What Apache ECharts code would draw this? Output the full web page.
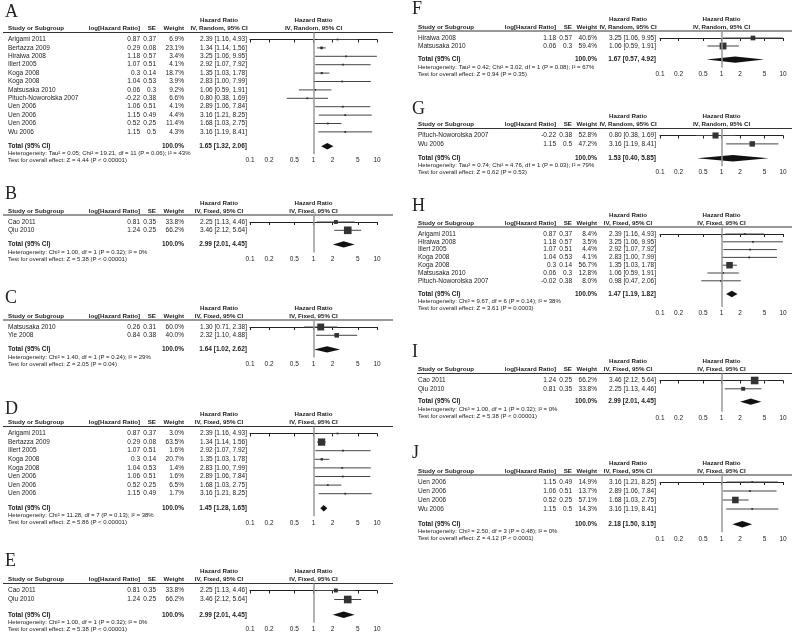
<!DOCTYPE html>
<html>
<head>
<meta charset="utf-8">
<script src="https://cdn.jsdelivr.net/npm/echarts@6/dist/echarts.min.js"></script>
<style>
  html, body { margin: 0; padding: 0; background: #fff; }
  #chart { width: 793px; height: 642px; }
</style>
</head>
<body>
<div id="chart"></div>
<script>
// rows: [study, log[HR], SE, weight %, HR, lower, upper]
const rowsA = [
  ['Arigami 2011', 0.87, 0.37, 6.9, 2.39, 1.16, 4.93],
  ['Bertazza 2009', 0.29, 0.08, 23.1, 1.34, 1.14, 1.56],
  ['Hiraiwa 2008', 1.18, 0.57, 3.4, 3.25, 1.06, 9.95],
  ['Illert 2005', 1.07, 0.51, 4.1, 2.92, 1.07, 7.92],
  ['Koga 2008', 0.3, 0.14, 18.7, 1.35, 1.03, 1.78],
  ['Koga 2008', 1.04, 0.53, 3.9, 2.83, 1.00, 7.99],
  ['Matsusaka 2010', 0.06, 0.3, 9.2, 1.06, 0.59, 1.91],
  ['Pituch-Noworolska 2007', -0.22, 0.38, 6.6, 0.80, 0.38, 1.69],
  ['Uen 2006', 1.06, 0.51, 4.1, 2.89, 1.06, 7.84],
  ['Uen 2006', 1.15, 0.49, 4.4, 3.16, 1.21, 8.25],
  ['Uen 2006', 0.52, 0.25, 11.4, 1.68, 1.03, 2.75],
  ['Wu 2006', 1.15, 0.5, 4.3, 3.16, 1.19, 8.41]
]
const totalA = [1.65, 1.32, 2.06]
const hetA = 'Heterogeneity: Tau² = 0.05; Chi² = 19.21, df = 11 (P = 0.06); I² = 43%'
const testA = 'Test for overall effect: Z = 4.44 (P < 0.00001)'

const rowsB = [
  ['Cao 2011', 0.81, 0.35, 33.8, 2.25, 1.13, 4.46],
  ['Qiu 2010', 1.24, 0.25, 66.2, 3.46, 2.12, 5.64]
]
const totalB = [2.99, 2.01, 4.45]
const hetB = 'Heterogeneity: Chi² = 1.00, df = 1 (P = 0.32); I² = 0%'
const testB = 'Test for overall effect: Z = 5.38 (P < 0.00001)'

const rowsC = [
  ['Matsusaka 2010', 0.26, 0.31, 60.0, 1.30, 0.71, 2.38],
  ['Yie 2008', 0.84, 0.38, 40.0, 2.32, 1.10, 4.88]
]
const totalC = [1.64, 1.02, 2.62]
const hetC = 'Heterogeneity: Chi² = 1.40, df = 1 (P = 0.24); I² = 29%'
const testC = 'Test for overall effect: Z = 2.05 (P = 0.04)'

const rowsD = [
  ['Arigami 2011', 0.87, 0.37, 3.0, 2.39, 1.16, 4.93],
  ['Bertazza 2009', 0.29, 0.08, 63.5, 1.34, 1.14, 1.56],
  ['Illert 2005', 1.07, 0.51, 1.6, 2.92, 1.07, 7.92],
  ['Koga 2008', 0.3, 0.14, 20.7, 1.35, 1.03, 1.78],
  ['Koga 2008', 1.04, 0.53, 1.4, 2.83, 1.00, 7.99],
  ['Uen 2006', 1.06, 0.51, 1.6, 2.89, 1.06, 7.84],
  ['Uen 2006', 0.52, 0.25, 6.5, 1.68, 1.03, 2.75],
  ['Uen 2006', 1.15, 0.49, 1.7, 3.16, 1.21, 8.25]
]
const totalD = [1.45, 1.28, 1.65]
const hetD = 'Heterogeneity: Chi² = 11.28, df = 7 (P = 0.13); I² = 38%'
const testD = 'Test for overall effect: Z = 5.86 (P < 0.00001)'

const rowsE = [
  ['Cao 2011', 0.81, 0.35, 33.8, 2.25, 1.13, 4.46],
  ['Qiu 2010', 1.24, 0.25, 66.2, 3.46, 2.12, 5.64]
]
const totalE = [2.99, 2.01, 4.45]
const hetE = 'Heterogeneity: Chi² = 1.00, df = 1 (P = 0.32); I² = 0%'
const testE = 'Test for overall effect: Z = 5.38 (P < 0.00001)'

const rowsF = [
  ['Hiraiwa 2008', 1.18, 0.57, 40.6, 3.25, 1.06, 9.95],
  ['Matsusaka 2010', 0.06, 0.3, 59.4, 1.06, 0.59, 1.91]
]
const totalF = [1.67, 0.57, 4.92]
const hetF = 'Heterogeneity: Tau² = 0.42; Chi² = 3.02, df = 1 (P = 0.08); I² = 67%'
const testF = 'Test for overall effect: Z = 0.94 (P = 0.35)'

const rowsG = [
  ['Pituch-Noworolska 2007', -0.22, 0.38, 52.8, 0.80, 0.38, 1.69],
  ['Wu 2006', 1.15, 0.5, 47.2, 3.16, 1.19, 8.41]
]
const totalG = [1.53, 0.40, 5.85]
const hetG = 'Heterogeneity: Tau² = 0.74; Chi² = 4.76, df = 1 (P = 0.03); I² = 79%'
const testG = 'Test for overall effect: Z = 0.62 (P = 0.53)'

const rowsH = [
  ['Arigami 2011', 0.87, 0.37, 8.4, 2.39, 1.16, 4.93],
  ['Hiraiwa 2008', 1.18, 0.57, 3.5, 3.25, 1.06, 9.95],
  ['Illert 2005', 1.07, 0.51, 4.4, 2.92, 1.07, 7.92],
  ['Koga 2008', 1.04, 0.53, 4.1, 2.83, 1.00, 7.99],
  ['Koga 2008', 0.3, 0.14, 56.7, 1.35, 1.03, 1.78],
  ['Matsusaka 2010', 0.06, 0.3, 12.8, 1.06, 0.59, 1.91],
  ['Pituch-Noworolska 2007', -0.02, 0.38, 8.0, 0.98, 0.47, 2.06]
]
const totalH = [1.47, 1.19, 1.82]
const hetH = 'Heterogeneity: Chi² = 9.67, df = 6 (P = 0.14); I² = 38%'
const testH = 'Test for overall effect: Z = 3.61 (P = 0.0003)'

const rowsI = [
  ['Cao 2011', 1.24, 0.25, 66.2, 3.46, 2.12, 5.64],
  ['Qiu 2010', 0.81, 0.35, 33.8, 2.25, 1.13, 4.46]
]
const totalI = [2.99, 2.01, 4.45]
const hetI = 'Heterogeneity: Chi² = 1.00, df = 1 (P = 0.32); I² = 0%'
const testI = 'Test for overall effect: Z = 5.38 (P < 0.00001)'

const rowsJ = [
  ['Uen 2006', 1.15, 0.49, 14.9, 3.16, 1.21, 8.25],
  ['Uen 2006', 1.06, 0.51, 13.7, 2.89, 1.06, 7.84],
  ['Uen 2006', 0.52, 0.25, 57.1, 1.68, 1.03, 2.75],
  ['Wu 2006', 1.15, 0.5, 14.3, 3.16, 1.19, 8.41]
]
const totalJ = [2.18, 1.50, 3.15]
const hetJ = 'Heterogeneity: Chi² = 2.50, df = 3 (P = 0.48); I² = 0%'
const testJ = 'Test for overall effect: Z = 4.12 (P < 0.0001)'

const tickValues = [0.1, 0.2, 0.5, 1, 2, 5, 10]
const methodRandom = 'IV, Random, 95% CI'
const methodFixed = 'IV, Fixed, 95% CI'

const panels = [
  { key: 'A', rows: rowsA, total: totalA, het: hetA, test: testA, method: methodRandom },
  { key: 'B', rows: rowsB, total: totalB, het: hetB, test: testB, method: methodFixed },
  { key: 'C', rows: rowsC, total: totalC, het: hetC, test: testC, method: methodFixed },
  { key: 'D', rows: rowsD, total: totalD, het: hetD, test: testD, method: methodFixed },
  { key: 'E', rows: rowsE, total: totalE, het: hetE, test: testE, method: methodFixed },
  { key: 'F', rows: rowsF, total: totalF, het: hetF, test: testF, method: methodRandom },
  { key: 'G', rows: rowsG, total: totalG, het: hetG, test: testG, method: methodRandom },
  { key: 'H', rows: rowsH, total: totalH, het: hetH, test: testH, method: methodFixed },
  { key: 'I', rows: rowsI, total: totalI, het: hetI, test: testI, method: methodFixed },
  { key: 'J', rows: rowsJ, total: totalJ, het: hetJ, test: testJ, method: methodFixed }
]

// page layout (pixels)
const cols = {
  L: { letter: 5, name: 8, logHr: 140, se: 156, weight: 184, hr: 247, hrHead: 219, plotL: 250, plotR: 377, ruleL: 3, ruleR: 393 },
  R: { letter: 412, name: 418, logHr: 556, se: 572, weight: 597, hr: 656, hrHead: 628, plotL: 660, plotR: 783, ruleL: 417, ruleR: 792 }
}
// letterY = vertical centre of the panel letter
const layout = {
  A: { side: 'L', letterY: 12.5, lineY: 32.5, rowH: 8.4, gap: 1.7, axisOff: 8 },
  B: { side: 'L', letterY: 194, lineY: 215, rowH: 8.3, gap: 1.7, axisOff: 8 },
  C: { side: 'L', letterY: 298.5, lineY: 320, rowH: 8.3, gap: 1.7, axisOff: 8 },
  D: { side: 'L', letterY: 409, lineY: 426.5, rowH: 8.6, gap: 1.7, axisOff: 8 },
  E: { side: 'L', letterY: 561, lineY: 583.5, rowH: 9, gap: 1.7, axisOff: 8 },
  F: { side: 'R', letterY: 9, lineY: 31, rowH: 8, gap: 1.7, axisOff: 8 },
  G: { side: 'R', letterY: 109, lineY: 128.5, rowH: 8.4, gap: 1.7, axisOff: 8 },
  H: { side: 'R', letterY: 206, lineY: 227, rowH: 7.8, gap: 1.7, axisOff: 13 },
  I: { side: 'R', letterY: 352.5, lineY: 373.5, rowH: 8.3, gap: 1.55, axisOff: 10 },
  J: { side: 'R', letterY: 453.5, lineY: 475, rowH: 9, gap: 1.7, axisOff: 8 }
}

const FONT = 'Liberation Sans, Arial, sans-serif'
const INK = '#222'

const fmtHr = (hr, lo, hi) => `${hr.toFixed(2)} [${lo.toFixed(2)}, ${hi.toFixed(2)}]`

function txt(text, x, y, align, kind) {
  const font = kind === 'head' ? 'bold 6.2px ' : kind === 'bold' ? 'bold 6.5px ' : kind === 'foot' ? '6px ' : '6.5px '
  return {
    type: 'text',
    silent: true,
    style: {
      text: text, x: x, y: y,
      textAlign: align || 'left', align: align || 'left',
      textVerticalAlign: 'middle', verticalAlign: 'middle',
      font: font + FONT,
      fill: INK
    }
  }
}

function renderStudy(params, api) {
  const y = api.value(3)
  const c = api.coord([api.value(0), y])
  const p1 = api.coord([api.value(1), y])
  const p2 = api.coord([api.value(2), y])
  const s = Math.max(1.8, api.value(4) * 0.115)
  return {
    type: 'group',
    children: [
      { type: 'line', shape: { x1: p1[0], y1: p1[1], x2: p2[0], y2: p2[1] }, style: { stroke: '#444', lineWidth: 1 } },
      { type: 'rect', shape: { x: c[0] - s / 2, y: c[1] - s / 2, width: s, height: s }, style: { fill: '#333' } }
    ]
  }
}

function renderDiamond(params, api) {
  const y = api.value(3)
  const c = api.coord([api.value(0), y])
  const p1 = api.coord([api.value(1), y])
  const p2 = api.coord([api.value(2), y])
  const h = 3.2
  return {
    type: 'polygon',
    shape: { points: [[p1[0], c[1]], [c[0], c[1] - h], [p2[0], c[1]], [c[0], c[1] + h]] },
    style: { fill: '#111' }
  }
}

const grids = [], xAxes = [], yAxes = [], series = [], graphics = []

panels.forEach((p, k) => {
  const L = layout[p.key]
  const c = cols[L.side]
  const n = p.rows.length
  const row1Y = L.lineY + 7
  const rowY = i => row1Y + i * L.rowH
  const totalIdx = n - 1 + L.gap
  const totalY = rowY(totalIdx)
  const axisY = totalY + L.axisOff
  const hetY = totalY + 7.5
  const testY = hetY + 7
  const plotMid = (c.plotL + c.plotR) / 2

  // panel letter
  graphics.push({
    type: 'text', silent: true,
    style: { text: p.key, x: c.letter, y: L.letterY, textVerticalAlign: 'middle', verticalAlign: 'middle',
      font: '18px Liberation Serif, Times New Roman, serif', fill: '#222' }
  })
  // headers
  graphics.push(txt('Hazard Ratio', c.hrHead, L.lineY - 12, 'center', 'head'))
  graphics.push(txt('Hazard Ratio', plotMid, L.lineY - 12, 'center', 'head'))
  graphics.push(txt('Study or Subgroup', c.name, L.lineY - 4, 'left', 'head'))
  graphics.push(txt('log[Hazard Ratio]', c.logHr, L.lineY - 4, 'right', 'head'))
  graphics.push(txt('SE', c.se, L.lineY - 4, 'right', 'head'))
  graphics.push(txt('Weight', c.weight, L.lineY - 4, 'right', 'head'))
  graphics.push(txt(p.method, c.hrHead, L.lineY - 4, 'center', 'head'))
  graphics.push(txt(p.method, plotMid, L.lineY - 4, 'center', 'head'))
  graphics.push({
    type: 'line', silent: true,
    shape: { x1: c.ruleL, y1: L.lineY, x2: c.ruleR, y2: L.lineY },
    style: { stroke: '#333', lineWidth: 1 }
  })
  // study rows
  p.rows.forEach((r, i) => {
    const y = rowY(i)
    graphics.push(txt(r[0], c.name, y, 'left'))
    graphics.push(txt(String(r[1]), c.logHr, y, 'right'))
    graphics.push(txt(String(r[2]), c.se, y, 'right'))
    graphics.push(txt(r[3].toFixed(1) + '%', c.weight, y, 'right'))
    graphics.push(txt(fmtHr(r[4], r[5], r[6]), c.hr, y, 'right'))
  })
  // total + footnotes
  graphics.push(txt('Total (95% CI)', c.name, totalY, 'left', 'bold'))
  graphics.push(txt('100.0%', c.weight, totalY, 'right', 'bold'))
  graphics.push(txt(fmtHr(p.total[0], p.total[1], p.total[2]), c.hr, totalY, 'right', 'bold'))
  graphics.push(txt(p.het, c.name, hetY, 'left', 'foot'))
  graphics.push(txt(p.test, c.name, testY, 'left', 'foot'))

  grids.push({ left: c.plotL, top: L.lineY, width: c.plotR - c.plotL, height: axisY - L.lineY })
  xAxes.push({
    gridIndex: k, type: 'log', logBase: 10, min: 0.1, max: 10,
    axisLine: { lineStyle: { color: '#222', width: 1 } },
    axisTick: { customValues: tickValues, length: 3, lineStyle: { color: '#222' } },
    minorTick: { show: false },
    splitLine: { show: false },
    axisLabel: {
      customValues: tickValues, fontSize: 6.5, color: INK, fontFamily: FONT, margin: 3,
      formatter: v => String(parseFloat(Number(v).toPrecision(2)))
    }
  })
  yAxes.push({
    gridIndex: k, type: 'value', inverse: true, show: false,
    min: (L.lineY - row1Y) / L.rowH, max: (axisY - row1Y) / L.rowH
  })
  series.push({
    type: 'custom', xAxisIndex: k, yAxisIndex: k,
    renderItem: renderStudy,
    encode: { x: [0, 1, 2], y: 3 },
    data: p.rows.map((r, i) => [r[4], r[5], r[6], i, r[3]]),
    markLine: {
      silent: true, symbol: ['none', 'none'], label: { show: false },
      lineStyle: { color: '#999', width: 1.5, type: 'solid' },
      data: [{ xAxis: 1 }]
    }
  })
  series.push({
    type: 'custom', xAxisIndex: k, yAxisIndex: k,
    renderItem: renderDiamond,
    encode: { x: [0, 1, 2], y: 3 },
    data: [[p.total[0], p.total[1], p.total[2], totalIdx]]
  })
})

const chart = echarts.init(document.getElementById('chart'), null, { renderer: 'canvas' })
chart.setOption({
  animation: false,
  backgroundColor: '#fff',
  grid: grids,
  xAxis: xAxes,
  yAxis: yAxes,
  series: series,
  graphic: { elements: graphics }
})
</script>
</body>
</html>
